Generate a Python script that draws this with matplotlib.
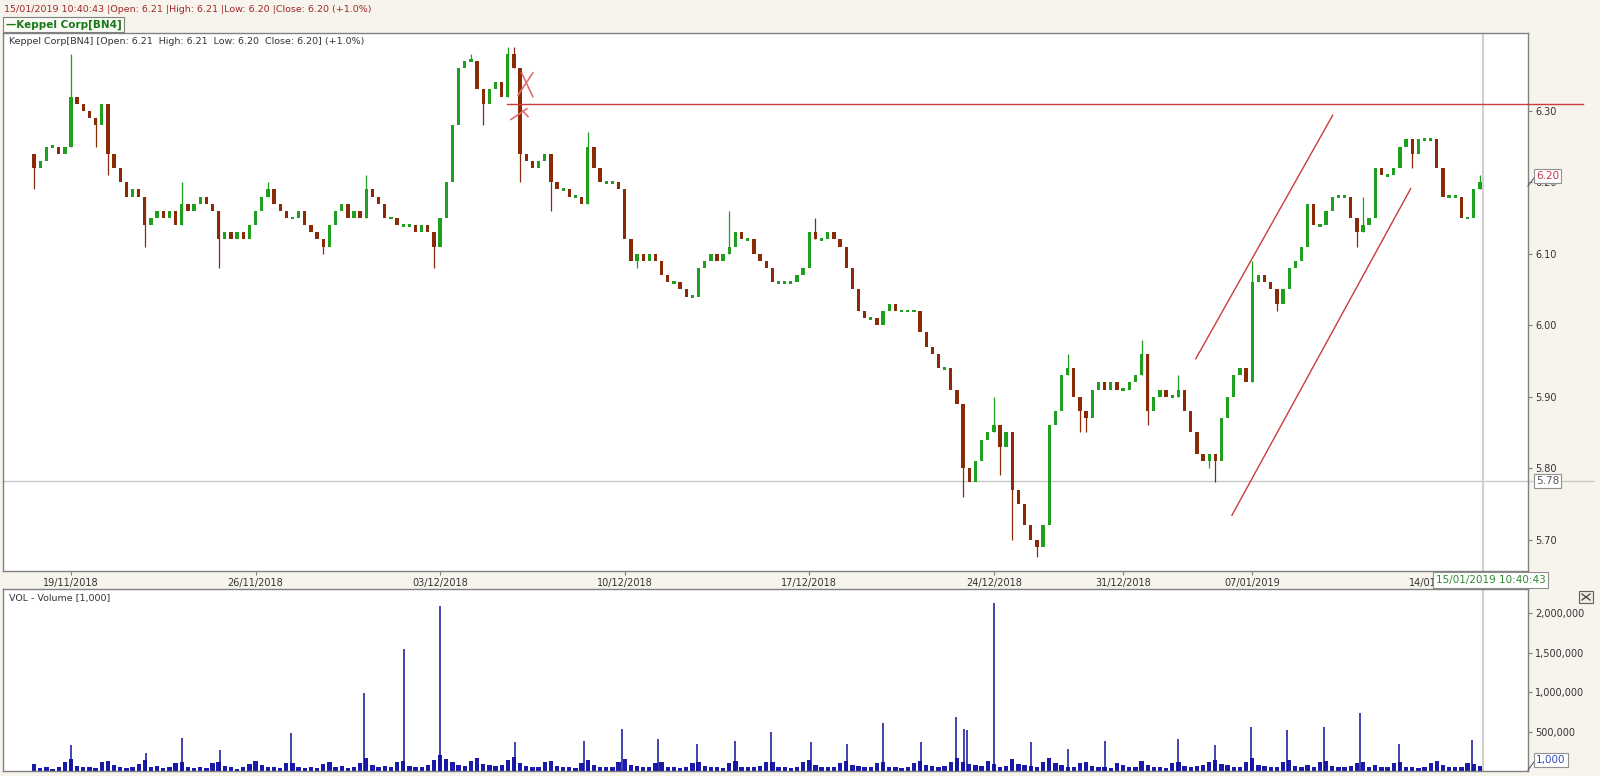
import numpy as np
import matplotlib.pyplot as plt
from matplotlib.patches import Rectangle

# closing price of each intraday bar (6 bars per full session, 3 per half session)
closes = [
    6.22, 6.23, 6.25, 6.25, 6.24, 6.25,   # 16/11
    6.32, 6.31, 6.30, 6.29, 6.28, 6.31,   # 19/11
    6.24, 6.22, 6.20, 6.18, 6.19, 6.18,   # 20/11
    6.14, 6.15, 6.16, 6.15, 6.16, 6.14,   # 21/11
    6.17, 6.16, 6.17, 6.18, 6.17, 6.16,   # 22/11
    6.12, 6.13, 6.12, 6.13, 6.12, 6.14,   # 23/11
    6.16, 6.18, 6.19, 6.17, 6.16, 6.15,   # 26/11
    6.15, 6.16, 6.14, 6.13, 6.12, 6.11,   # 27/11
    6.14, 6.16, 6.17, 6.15, 6.16, 6.15,   # 28/11
    6.19, 6.18, 6.17, 6.15, 6.15, 6.14,   # 29/11
    6.14, 6.14, 6.13, 6.14, 6.13, 6.11,   # 30/11
    6.15, 6.20, 6.28, 6.36, 6.37, 6.37,   # 03/12
    6.33, 6.31, 6.33, 6.34, 6.32, 6.38,   # 04/12
    6.36, 6.24, 6.23, 6.22, 6.23, 6.24,   # 05/12
    6.20, 6.19, 6.19, 6.18, 6.18, 6.17,   # 06/12
    6.25, 6.22, 6.20, 6.20, 6.20, 6.19,   # 07/12
    6.12, 6.09, 6.10, 6.09, 6.10, 6.09,   # 10/12
    6.07, 6.06, 6.06, 6.05, 6.04, 6.04,   # 11/12
    6.08, 6.09, 6.10, 6.09, 6.10, 6.11,   # 12/12
    6.13, 6.12, 6.12, 6.10, 6.09, 6.08,   # 13/12
    6.06, 6.06, 6.06, 6.06, 6.07, 6.08,   # 14/12
    6.13, 6.12, 6.12, 6.13, 6.12, 6.11,   # 17/12
    6.08, 6.05, 6.02, 6.01, 6.01, 6.00,   # 18/12
    6.02, 6.03, 6.02, 6.02, 6.02, 6.02,   # 19/12
    5.99, 5.97, 5.96, 5.94, 5.94, 5.91,   # 20/12
    5.89, 5.80, 5.78, 5.81, 5.84, 5.85,   # 21/12
    5.86, 5.83, 5.85,                     # 24/12
    5.77, 5.75, 5.72, 5.70, 5.69, 5.72,   # 26/12
    5.86, 5.88, 5.93, 5.94, 5.90, 5.88,   # 27/12
    5.87, 5.91, 5.92, 5.91, 5.92, 5.91,   # 28/12
    5.91, 5.92, 5.93,                     # 31/12
    5.96, 5.88, 5.90, 5.91, 5.90, 5.90,   # 02/01
    5.91, 5.88, 5.85, 5.82, 5.81, 5.82,   # 03/01
    5.81, 5.87, 5.90, 5.93, 5.94, 5.92,   # 04/01
    6.06, 6.07, 6.06, 6.05, 6.03, 6.05,   # 07/01
    6.08, 6.09, 6.11, 6.17, 6.14, 6.14,   # 08/01
    6.16, 6.18, 6.18, 6.18, 6.15, 6.13,   # 09/01
    6.14, 6.15, 6.22, 6.21, 6.21, 6.22,   # 10/01
    6.25, 6.26, 6.24, 6.26, 6.26, 6.26,   # 11/01
    6.22, 6.18, 6.18, 6.18, 6.15, 6.15,   # 14/01
    6.19, 6.20,                           # 15/01
]
first_open = 6.24

# bars whose high / low stick out beyond the body
high_wicks = {6: 6.38, 24: 6.20, 38: 6.20, 54: 6.21, 71: 6.38, 77: 6.39, 78: 6.39,
              90: 6.27, 113: 6.16, 127: 6.15, 156: 5.90, 159: 5.78, 168: 5.96,
              180: 5.98, 186: 5.93, 198: 6.09, 216: 6.18, 235: 6.21}
low_wicks = {0: 6.19, 10: 6.25, 12: 6.21, 18: 6.11, 30: 6.08, 47: 6.10, 65: 6.08,
             73: 6.28, 79: 6.20, 84: 6.16, 98: 6.08, 151: 5.76, 157: 5.79,
             159: 5.70, 163: 5.675, 170: 5.85, 171: 5.85, 181: 5.86, 191: 5.80,
             192: 5.78, 202: 6.02, 215: 6.11, 224: 6.22}

# volume per bar, thousands of shares
vol_base = [
    90, 40, 55, 30, 45, 120,   150, 60, 45, 50, 40, 110,   130, 70, 45, 40, 55, 90,
    140, 50, 60, 35, 45, 100,  120, 55, 40, 50, 35, 95,    110, 60, 45, 30, 50, 85,
    130, 75, 50, 45, 40, 105,  100, 45, 40, 55, 35, 90,    115, 50, 65, 40, 45, 95,
    160, 70, 55, 60, 50, 120,  125, 65, 50, 45, 70, 140,   200, 150, 110, 80, 60, 130,
    170, 90, 70, 65, 75, 140,  180, 95, 60, 50, 55, 110,   130, 60, 45, 50, 40, 100,
    140, 75, 55, 45, 50, 115,  150, 80, 60, 50, 45, 105,   120, 55, 50, 40, 45, 95,
    110, 60, 45, 55, 40, 100,  130, 55, 50, 45, 60, 110,   115, 50, 45, 40, 55, 120,
    140, 70, 55, 50, 45, 105,  125, 80, 60, 50, 45, 100,   110, 55, 45, 40, 50, 95,
    130, 75, 60, 55, 65, 120,  160, 110, 85, 70, 60, 130,  90, 50, 60,
    150, 90, 70, 60, 55, 110,  170, 100, 70, 55, 50, 105,  120, 60, 50, 45, 40, 95,
    80, 45, 55,
    130, 70, 50, 45, 40, 100,  120, 65, 55, 60, 70, 110,   140, 90, 70, 55, 50, 120,
    170, 80, 60, 50, 55, 115,  140, 65, 50, 70, 55, 110,   130, 60, 55, 45, 60, 105,
    120, 55, 75, 50, 45, 100,  110, 55, 45, 40, 50, 95,    130, 70, 55, 50, 45, 105,
    90, 60,
]

# closing-auction volume spikes: session position (days) and volume (thousands)
spike_days = [1.01, 3.03, 4.0, 5.05, 6.95, 8.94, 10.02, 10.99, 13.03, 14.91, 15.93,
              16.9, 17.95, 18.98, 19.97, 21.05, 22.02, 23.0, 24.03, 24.97, 25.2, 25.28,
              26.0, 27.0, 28.0, 29.0, 31.0, 32.0, 32.96, 33.95, 34.95, 35.92, 36.97, 38.96]
spike_vols = [323, 233, 413, 271, 478, 982, 1540, 2090, 362, 375, 530,
              400, 336, 375, 491, 362, 336, 607, 362, 685, 530, 517,
              2130, 362, 284, 375, 400, 323, 556, 517, 556, 736, 336, 388]

date_days = [1, 6, 11, 16, 21, 26, 29.5, 33, 38]
date_labels = ['19/11/2018', '26/11/2018', '03/12/2018', '10/12/2018', '17/12/2018',
               '24/12/2018', '31/12/2018', '07/01/2019', '14/01/2019']
price_ticks = [5.70, 5.80, 5.90, 6.00, 6.10, 6.20, 6.30]
vol_ticks = [500000, 1000000, 1500000, 2000000]

# drawn annotations (session position, price)
resistance = ([12.81, 41.96], [6.31, 6.31])
channel_up = ([31.47, 35.18], [5.953, 6.294])
channel_lo = ([32.45, 37.29], [5.734, 6.191])

W, H = 1600, 776
BG = '#f6f4ec'
UP = '#1f9f1f'
DN = '#8a2a08'
LINE_RED = '#cc3b3b'


def px_box(l, t, r, b):
    return [l / W, 1 - b / H, (r - l) / W, (b - t) / H]


def fx(x):
    return x / W


def fy(y):
    return 1 - y / H


plt.rcParams['font.family'] = 'DejaVu Sans'
fig = plt.figure(figsize=(16, 7.76), dpi=100, facecolor=BG)

ax = fig.add_axes(px_box(3, 33, 1528, 571), facecolor='white')
axv = fig.add_axes(px_box(3, 589, 1528, 771), facecolor='white')

n = len(closes)
xs = np.arange(n) / 6.0
opens = [first_open] + closes[:-1]
step = 1 / 6.0

# candles
for i in range(n):
    o, c = opens[i], closes[i]
    col = UP if c >= o else DN
    lo = min(o, c)
    hgt = abs(c - o)
    if hgt < 0.004:
        lo, hgt = lo - 0.002, 0.004
    ax.add_patch(Rectangle((xs[i] - step * 0.27, lo), step * 0.54, hgt,
                           facecolor=col, edgecolor='none', zorder=3))
    top = high_wicks.get(i, max(o, c))
    bot = low_wicks.get(i, min(o, c))
    if top > max(o, c) or bot < min(o, c):
        ax.vlines(xs[i], bot, top, color=col, lw=0.9, zorder=2)

xmin, xmax = -0.842, 40.47
ax.set_xlim(xmin, xmax)
ax.set_ylim(5.656, 6.409)

# horizontal resistance line, channel and X mark
ax.plot(*resistance, color=LINE_RED, lw=1.0, clip_on=False, zorder=4)
ax.plot(*channel_up, color=LINE_RED, lw=1.0, zorder=4)
ax.plot(*channel_lo, color=LINE_RED, lw=1.0, zorder=4)
ax.plot([13.11, 13.51], [6.322, 6.353], color='#e07070', lw=1.2, zorder=4)
ax.plot([13.21, 13.51], [6.353, 6.320], color='#e07070', lw=1.2, zorder=4)
ax.plot([12.92, 13.35], [6.288, 6.303], color='#e07070', lw=1.2, zorder=4)
ax.plot([13.24, 13.38], [6.300, 6.292], color='#e07070', lw=1.2, zorder=4)

# crosshair
cross_x, cross_y = 39.24, 5.782
ax.plot([xmin, 42.22], [cross_y, cross_y], color='#c8c8c8', lw=1.0, clip_on=False, zorder=1)
ax.axvline(cross_x, color='#d0d0d0', lw=1.5, zorder=1)
axv.axvline(cross_x, color='#d0d0d0', lw=1.5, zorder=1)

# axes styling
for a in (ax, axv):
    for s in a.spines.values():
        s.set_color('#808080')
        s.set_linewidth(1.0)
    a.yaxis.tick_right()
    a.tick_params(axis='y', direction='out', length=3, width=0.8, pad=2,
                  labelsize=7, colors='#808080', labelcolor='#333333')

ax.set_yticks(price_ticks)
ax.set_yticklabels([f'{p:.2f}' for p in price_ticks])
ax.set_xticks(date_days)
ax.set_xticklabels(date_labels)
ax.tick_params(axis='x', direction='out', length=3, width=0.8, pad=2,
               labelsize=7, colors='#808080', labelcolor='#333333')

# volume
axv.bar(xs, np.array(vol_base) * 1000, width=step * 0.7, color='#1a1aa8', zorder=2)
axv.vlines(spike_days, 0, np.array(spike_vols) * 1000, color='#10109a', lw=1.1, zorder=3)
axv.set_xlim(xmin, xmax)
axv.set_ylim(0, 2.304e6)
axv.set_xticks([])
axv.set_yticks(vol_ticks)
axv.set_yticklabels([f'{v:,}' for v in vol_ticks])

# header texts
fig.text(fx(4), fy(9), '15/01/2019 10:40:43 |Open: 6.21 |High: 6.21 |Low: 6.20 |Close: 6.20 (+1.0%)',
         color='#a02828', fontsize=6.8, va='center', ha='left')
fig.text(fx(6), fy(24.5), '\u2014Keppel Corp[BN4]', color='#187818', fontsize=7.5,
         fontweight='bold', va='center', ha='left',
         bbox=dict(boxstyle='square,pad=0.25', facecolor='#fbfbf6', edgecolor='#808080', lw=0.8))
fig.text(fx(9), fy(41), 'Keppel Corp[BN4] [Open: 6.21  High: 6.21  Low: 6.20  Close: 6.20] (+1.0%)',
         color='#333333', fontsize=6.8, va='center', ha='left')
fig.text(fx(9), fy(598), 'VOL - Volume [1,000]', color='#333333', fontsize=6.8,
         va='center', ha='left')

# value boxes on the right axis
box = dict(boxstyle='square,pad=0.2', facecolor='white', edgecolor='#909090', lw=0.8)
fig.text(fx(1536), fy(176), '6.20', color='#c03050', fontsize=7.5, va='center', ha='left',
         bbox=box, zorder=10)
fig.lines.append(plt.Line2D([fx(1528), fx(1534)], [fy(186), fy(178)], transform=fig.transFigure,
                            color='#606060', lw=0.8))
fig.text(fx(1536), fy(481), '5.78', color='#555555', fontsize=7.5, va='center', ha='left', bbox=box)
fig.text(fx(1536), fy(760), '1,000', color='#2c4cc0', fontsize=7.5, va='center', ha='left', bbox=box)
fig.lines.append(plt.Line2D([fx(1528), fx(1534)], [fy(770), fy(762)], transform=fig.transFigure,
                            color='#606060', lw=0.8))
fig.text(fx(1436), fy(580), '15/01/2019 10:40:43', color='#2e8b2e', fontsize=7.5,
         va='center', ha='left', zorder=10,
         bbox=dict(boxstyle='square,pad=0.25', facecolor='white', edgecolor='#909090', lw=0.8))

# close button of the volume pane
fig.patches.append(Rectangle((fx(1579), fy(603)), 14 / W, 12 / H, transform=fig.transFigure,
                             facecolor='#ecebe4', edgecolor='#606060', lw=0.8))
fig.lines.append(plt.Line2D([fx(1582), fx(1590)], [fy(594), fy(600)], transform=fig.transFigure,
                            color='#404040', lw=0.9))
fig.lines.append(plt.Line2D([fx(1582), fx(1590)], [fy(600), fy(594)], transform=fig.transFigure,
                            color='#404040', lw=0.9))

fig.savefig('out.png', dpi=100, facecolor=BG)
